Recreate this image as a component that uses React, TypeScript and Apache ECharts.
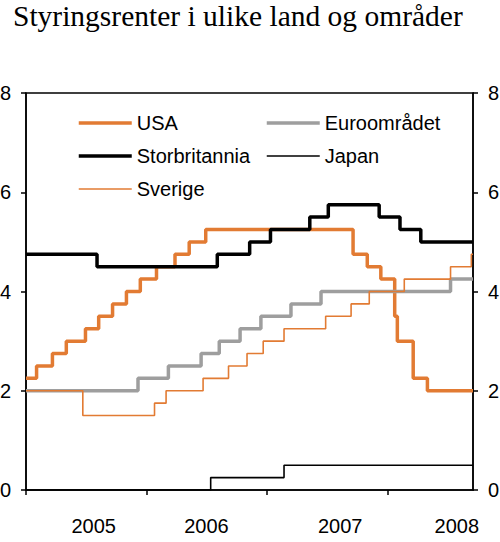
import React, { useEffect, useRef } from "react";
import * as echarts from "echarts";

const TITLE = "Styringsrenter i ulike land og områder";

const usaDates = ["2005-01-01","2005-02-02","2005-03-22","2005-05-03","2005-06-30","2005-08-09","2005-09-20","2005-11-01","2005-12-13","2006-01-31","2006-03-28","2006-05-10","2006-06-29","2007-09-18","2007-10-31","2007-12-11","2008-01-22","2008-01-30","2008-03-18","2008-04-30","2008-09-15"];
const usaRates = [2.25,2.5,2.75,3,3.25,3.5,3.75,4,4.25,4.5,4.75,5,5.25,4.75,4.5,4.25,3.5,3,2.25,2,2];

const euroDates = ["2005-01-01","2005-12-06","2006-03-08","2006-06-15","2006-08-09","2006-10-11","2006-12-13","2007-03-14","2007-06-13","2008-07-09","2008-09-15"];
const euroRates = [2,2.25,2.5,2.75,3,3.25,3.5,3.75,4,4.25,4.25];

const ukDates = ["2005-01-01","2005-08-04","2006-08-03","2006-11-09","2007-01-11","2007-05-10","2007-07-05","2007-12-06","2008-02-07","2008-04-10","2008-09-15"];
const ukRates = [4.75,4.5,4.75,5,5.25,5.5,5.75,5.5,5.25,5,5];

const japanDates = ["2005-01-01","2006-07-14","2007-02-21","2008-09-15"];
const japanRates = [0,0.25,0.5,0.5];

const swedenDates = ["2005-01-01","2005-06-22","2006-01-25","2006-03-01","2006-06-21","2006-09-06","2006-11-01","2006-12-20","2007-02-21","2007-06-27","2007-09-12","2007-11-06","2008-02-20","2008-07-09","2008-09-10","2008-09-15"];
const swedenRates = [2,1.5,1.75,2,2.25,2.5,2.75,3,3.25,3.5,3.75,4,4.25,4.5,4.75,4.75];

const xStart = "2005-01-01";
const xEnd = "2008-09-15";
const yearTickDates = ["2005-01-01","2006-01-01","2007-01-01","2008-01-01"];
const yearLabels = ["2005","2006","2007","2008"];
const yearLabelDates = ["2005-07-25","2006-07-01","2007-08-10","2008-07-28"];

const ts = (s: string) => Date.parse(s);
const pairs = (d: string[], v: number[]) => d.map((s, i) => [ts(s), v[i]]);

const ORANGE = "#E27B33";
const GRAY = "#9E9E9E";
const BLACK = "#000000";
const FONT = "Liberation Sans";
const THICK = 3.5;
const THIN = 1.6;

export default function App() {
  const ref = useRef<HTMLDivElement>(null);
  useEffect(() => {
    if (!ref.current) return;
    const chart = echarts.init(ref.current, undefined, { renderer: "svg" });
    const labelTs = yearLabelDates.map(ts);
    const yAxisBase = {
      type: "value",
      min: 0,
      max: 8,
      interval: 2,
      axisLine: { show: true, lineStyle: { color: BLACK, width: 1.5 } },
      axisTick: { show: true, inside: false, length: 5, lineStyle: { color: BLACK, width: 1.5 } },
      axisLabel: { color: BLACK, fontSize: 20, fontFamily: FONT, margin: 15 },
      splitLine: { show: false },
    };
    const legendBase = {
      orient: "vertical",
      top: 113,
      itemWidth: 53,
      itemHeight: 14,
      itemGap: 13,
      padding: 0,
      itemStyle: { opacity: 0 },
      textStyle: { color: BLACK, fontSize: 20, fontFamily: FONT },
    };
    const li = (name: string, w: number) => ({ name, lineStyle: { width: w } });
    const mk = (name: string, d: string[], v: number[], color: string, width: number) => ({
      name,
      type: "line",
      step: "end",
      symbol: "none",
      data: pairs(d, v),
      lineStyle: { color, width },
      itemStyle: { color },
    });
    chart.setOption({
      animation: false,
      backgroundColor: "#ffffff",
      title: {
        text: TITLE,
        left: 13,
        top: 1,
        padding: 0,
        textStyle: { fontFamily: "Liberation Serif", fontSize: 29.5, fontWeight: "normal", color: BLACK },
      },
      legend: [
        { ...legendBase, left: 77, data: [li("USA", THICK), li("Storbritannia", THICK), li("Sverige", THIN)] },
        { ...legendBase, left: 265, data: [li("Euroområdet", THICK), li("Japan", THIN)] },
      ],
      grid: {
        left: 26,
        right: 27,
        top: 93,
        bottom: 52,
        show: true,
        borderColor: BLACK,
        borderWidth: 1.5,
        outerBoundsMode: "none",
      },
      xAxis: {
        type: "value",
        min: ts(xStart),
        max: ts(xEnd),
        axisLine: { show: true, lineStyle: { color: BLACK, width: 1.5 } },
        axisTick: { show: true, inside: false, length: 5, customValues: yearTickDates.map(ts), lineStyle: { color: BLACK, width: 1.5 } },
        axisLabel: {
          customValues: labelTs,
          color: BLACK,
          fontSize: 20,
          fontFamily: FONT,
          margin: 26,
          formatter: (val: number) => {
            const i = labelTs.indexOf(val);
            return i >= 0 ? yearLabels[i] : "";
          },
        },
        splitLine: { show: false },
      },
      yAxis: [
        { ...yAxisBase, position: "left" },
        { ...yAxisBase, position: "right" },
      ],
      series: [
        mk("USA", usaDates, usaRates, ORANGE, THICK),
        mk("Euroområdet", euroDates, euroRates, GRAY, THICK),
        mk("Sverige", swedenDates, swedenRates, ORANGE, THIN),
        mk("Japan", japanDates, japanRates, BLACK, THIN),
        mk("Storbritannia", ukDates, ukRates, BLACK, THICK),
      ],
    });
    return () => chart.dispose();
  }, []);
  return <div ref={ref} style={{ position: "fixed", left: 0, top: 0, width: 500, height: 542 }} />;
}
